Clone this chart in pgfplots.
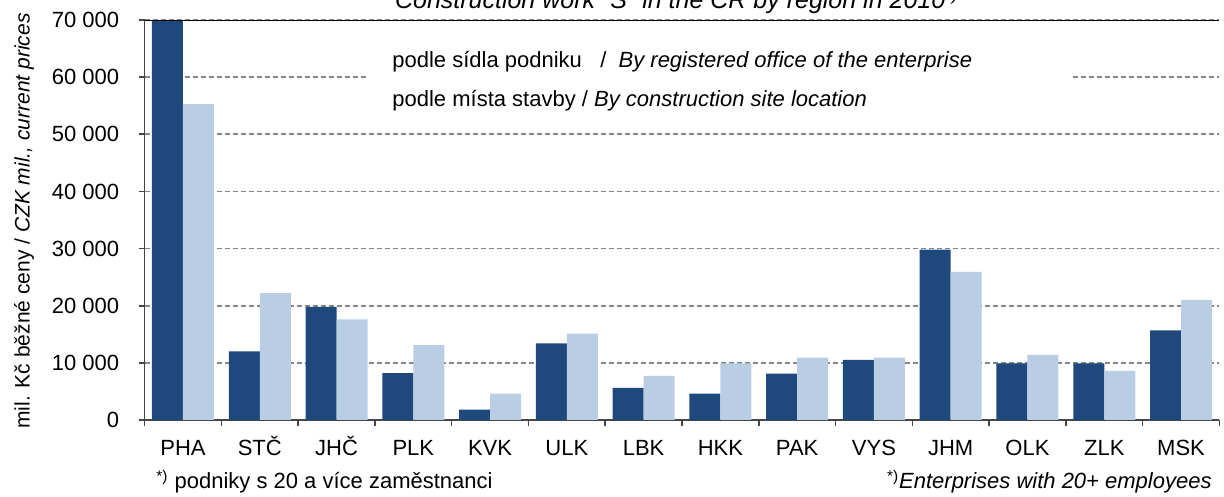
\documentclass[border=0pt]{standalone}
\usepackage{fontspec}
\setmainfont{Liberation Sans}
\usepackage{pgfplots}
\pgfplotsset{compat=1.18}
\definecolor{darkbar}{RGB}{31,73,125}
\definecolor{lightbar}{RGB}{185,205,229}
\definecolor{gridgray}{RGB}{134,134,134}
\definecolor{axisgray}{RGB}{70,70,70}
\begin{document}
\begin{tikzpicture}
\begin{axis}[
  at={(72.3pt,38.5pt)}, anchor=south west,
  scale only axis, width=537.4pt, height=200pt,
  xmin=-0.5, xmax=13.5, ymin=0, ymax=70000,
  ybar=0pt, bar width=15.5pt,
  axis x line*=bottom, axis y line*=left,
  axis line style={axisgray, line width=0.8pt},
  xtick={0,...,13},
  xticklabels={PHA,STČ,JHČ,PLK,KVK,ULK,LBK,HKK,PAK,VYS,JHM,OLK,ZLK,MSK},
  minor xtick={-0.5,0.5,...,13.5},
  ytick={0,10000,...,70000},
  tick align=outside,
  major tick length=3pt, minor tick length=3pt,
  x tick style={draw=none},
  minor x tick style={draw=axisgray, line width=0.8pt},
  y tick style={axisgray, line width=0.8pt},
  ymajorgrids,
  grid style={gridgray, dashed, dash pattern=on 2.5pt off 1.5pt, line width=0.9pt},
  /pgf/number format/assume math mode=true,
  /pgf/number format/1000 sep={\ },
  scaled y ticks=false,
  tick label style={font=\fontsize{11}{13}\selectfont},
  yticklabel style={anchor=east, inner sep=0pt, xshift=-9.5pt},
  xticklabel style={anchor=base, inner sep=0pt, yshift=-15pt},
  clip=true,
]
\addplot[fill=darkbar, draw=none] coordinates {
 (0,70000) (1,12000) (2,19800) (3,8200) (4,1800) (5,13400) (6,5600)
 (7,4600) (8,8100) (9,10500) (10,29800) (11,9900) (12,9900) (13,15700)};
\addplot[fill=lightbar, draw=none] coordinates {
 (0,55300) (1,22200) (2,17600) (3,13100) (4,4600) (5,15100) (6,7700)
 (7,9900) (8,10900) (9,10900) (10,25900) (11,11400) (12,8600) (13,21000)};
\draw[black, line width=0.7pt] (rel axis cs:0,1) -- (rel axis cs:1,1);
\end{axis}
\fill[white] (184.5pt,188.5pt) rectangle (535pt,231pt);
\node[anchor=west, inner sep=0pt, font=\fontsize{11}{13}\selectfont] at (196pt,217.5pt)
  {podle sídla podniku ~ / ~\textit{By registered office of the enterprise}};
\node[anchor=west, inner sep=0pt, font=\fontsize{11}{13}\selectfont] at (196pt,198pt)
  {podle místa stavby / \textit{By construction site location}};
\node[rotate=90, inner sep=0pt, font=\fontsize{10.5}{12}\selectfont] at (12pt,138pt)
  {mil. Kč běžné ceny / \textit{CZK mil., current prices}};
\node[anchor=base west, inner sep=0pt, font=\fontsize{11}{13}\selectfont] at (78pt,4pt)
  {\textsuperscript{*)} podniky s 20 a více zaměstnanci};
\node[anchor=base east, inner sep=0pt, font=\fontsize{11}{13}\selectfont] at (606pt,4pt)
  {\textsuperscript{*)}\textit{Enterprises with 20+ employees}};
\node[overlay, anchor=base, inner sep=0pt, font=\fontsize{12.5}{14}\selectfont\itshape] at (338.5pt,244pt)
  {Construction work "S" in the CR by region in 2010\textsuperscript{*)}};
\pgfresetboundingbox
\path[use as bounding box] (0,0) rectangle (612pt,248.5pt);
\end{tikzpicture}
\end{document}
